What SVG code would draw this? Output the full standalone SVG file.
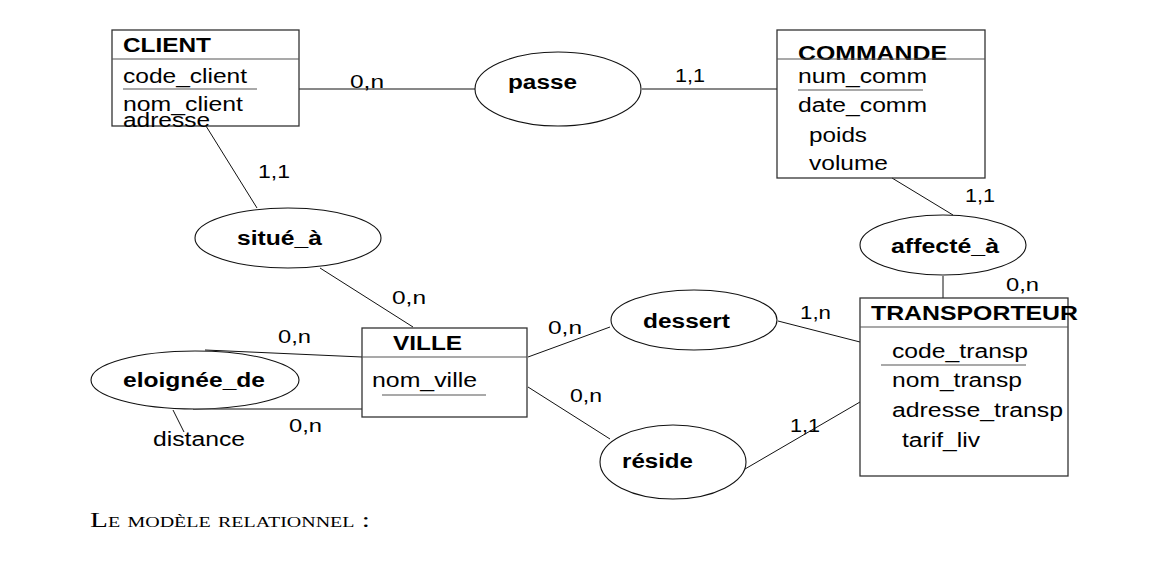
<svg xmlns="http://www.w3.org/2000/svg" width="1171" height="564" viewBox="0 0 1171 564">
<style>
text{font-family:"Liberation Sans",Arial,sans-serif;fill:#000}
.t{font-size:20px;font-weight:bold}
.a{font-size:20px}
.c{font-size:19px}
.box{fill:none;stroke:#333;stroke-width:1.3}
.sep{stroke:#555;stroke-width:1.2}
.ul{stroke:#555;stroke-width:1.2}
.ell{fill:#fff;stroke:#111;stroke-width:1.1}
.ln{stroke:#111;stroke-width:1;fill:none}
.cap{font-family:"Liberation Serif","Times New Roman",serif;font-variant:small-caps;font-size:22px}
</style>
<rect width="1171" height="564" fill="#fff"/>
<g id="connectors">
<line class="ln" x1="299" y1="89" x2="475" y2="89"/>
<line class="ln" x1="642" y1="89" x2="777" y2="89"/>
<line class="ln" x1="206" y1="126" x2="257" y2="208"/>
<line class="ln" x1="320" y1="268" x2="413" y2="327"/>
<line class="ln" x1="892" y1="178" x2="953" y2="215"/>
<line class="ln" x1="943" y1="276" x2="943" y2="298"/>
<line class="ln" x1="778" y1="321" x2="860" y2="342"/>
<line class="ln" x1="528" y1="357" x2="610" y2="327"/>
<line class="ln" x1="528" y1="387" x2="610" y2="439"/>
<line class="ln" x1="745" y1="469" x2="860" y2="402"/>
<line class="ln" x1="205" y1="350" x2="362" y2="357"/>
<line class="ln" x1="193" y1="409" x2="362" y2="409"/>
<line class="ln" x1="173" y1="410" x2="184" y2="432"/>
<text class="c" x="350" y="88" textLength="34" lengthAdjust="spacingAndGlyphs">0,n</text>
<text class="c" x="675" y="82" textLength="30" lengthAdjust="spacingAndGlyphs">1,1</text>
<text class="c" x="258" y="178" textLength="32" lengthAdjust="spacingAndGlyphs">1,1</text>
<text class="c" x="392" y="304" textLength="34" lengthAdjust="spacingAndGlyphs">0,n</text>
<text class="c" x="965" y="202" textLength="30" lengthAdjust="spacingAndGlyphs">1,1</text>
<text class="c" x="1006" y="291" textLength="33" lengthAdjust="spacingAndGlyphs">0,n</text>
<text class="c" x="800" y="319" textLength="31" lengthAdjust="spacingAndGlyphs">1,n</text>
<text class="c" x="790" y="432" textLength="30" lengthAdjust="spacingAndGlyphs">1,1</text>
<text class="c" x="548" y="334" textLength="34" lengthAdjust="spacingAndGlyphs">0,n</text>
<text class="c" x="570" y="402" textLength="32" lengthAdjust="spacingAndGlyphs">0,n</text>
<text class="c" x="278" y="343" textLength="33" lengthAdjust="spacingAndGlyphs">0,n</text>
<text class="c" x="289" y="432" textLength="33" lengthAdjust="spacingAndGlyphs">0,n</text>
<text class="a" x="153" y="446" textLength="92" lengthAdjust="spacingAndGlyphs">distance</text>
</g>
<g id="client">
<rect class="box" x="112" y="30" width="187" height="96"/>
<line class="sep" x1="112" y1="59" x2="299" y2="59"/>
<text class="t" x="123" y="52" textLength="88" lengthAdjust="spacingAndGlyphs">CLIENT</text>
<text class="a" x="123" y="83" textLength="124" lengthAdjust="spacingAndGlyphs">code_client</text>
<line class="ul" x1="123" y1="89" x2="257" y2="89"/>
<text class="a" x="123" y="111" textLength="120" lengthAdjust="spacingAndGlyphs">nom_client</text>
<text class="a" x="123" y="127" textLength="87" lengthAdjust="spacingAndGlyphs">adresse</text>
</g>
<g id="commande">
<rect class="box" x="777" y="30" width="208" height="148"/>
<text class="t" x="798" y="60" textLength="149" lengthAdjust="spacingAndGlyphs">COMMANDE</text>
<line class="sep" x1="777" y1="59" x2="985" y2="59"/>
<text class="a" x="798" y="83" textLength="129" lengthAdjust="spacingAndGlyphs">num_comm</text>
<line class="ul" x1="798" y1="90" x2="923" y2="90"/>
<text class="a" x="798" y="112" textLength="129" lengthAdjust="spacingAndGlyphs">date_comm</text>
<text class="a" x="809" y="142" textLength="58" lengthAdjust="spacingAndGlyphs">poids</text>
<text class="a" x="809" y="170" textLength="79" lengthAdjust="spacingAndGlyphs">volume</text>
</g>
<g id="transporteur">
<rect class="box" x="860" y="298" width="208" height="178"/>
<line class="sep" x1="860" y1="327" x2="1068" y2="327"/>
<text class="t" x="871" y="320" textLength="207" lengthAdjust="spacingAndGlyphs">TRANSPORTEUR</text>
<text class="a" x="892" y="358" textLength="136" lengthAdjust="spacingAndGlyphs">code_transp</text>
<line class="ul" x1="881" y1="365" x2="1026" y2="365"/>
<text class="a" x="892" y="387" textLength="130" lengthAdjust="spacingAndGlyphs">nom_transp</text>
<text class="a" x="892" y="417" textLength="171" lengthAdjust="spacingAndGlyphs">adresse_transp</text>
<text class="a" x="902" y="447" textLength="78" lengthAdjust="spacingAndGlyphs">tarif_liv</text>
</g>
<g id="ville">
<rect class="box" x="362" y="328" width="165" height="89"/>
<line class="sep" x1="362" y1="357" x2="527" y2="357"/>
<text class="t" x="393" y="350" textLength="69" lengthAdjust="spacingAndGlyphs">VILLE</text>
<text class="a" x="372" y="387" textLength="105" lengthAdjust="spacingAndGlyphs">nom_ville</text>
<line class="ul" x1="382" y1="395" x2="486" y2="395"/>
</g>
<g id="passe">
<ellipse class="ell" cx="558" cy="89" rx="83" ry="37"/>
<text class="t" x="508" y="89" textLength="69" lengthAdjust="spacingAndGlyphs">passe</text>
</g>
<g id="situe_a">
<ellipse class="ell" cx="288" cy="238" rx="93" ry="30"/>
<text class="t" x="237" y="245" textLength="85" lengthAdjust="spacingAndGlyphs">situé_à</text>
</g>
<g id="affecte_a">
<ellipse class="ell" cx="943" cy="245" rx="83" ry="30"/>
<text class="t" x="891" y="253" textLength="108" lengthAdjust="spacingAndGlyphs">affecté_à</text>
</g>
<g id="dessert">
<ellipse class="ell" cx="694" cy="320" rx="83" ry="30"/>
<text class="t" x="643" y="328" textLength="87" lengthAdjust="spacingAndGlyphs">dessert</text>
</g>
<g id="reside">
<ellipse class="ell" cx="673" cy="462" rx="73" ry="37"/>
<text class="t" x="622" y="468" textLength="71" lengthAdjust="spacingAndGlyphs">réside</text>
</g>
<g id="eloignee_de">
<ellipse class="ell" cx="195" cy="380" rx="104" ry="29"/>
<text class="t" x="123" y="387" textLength="142" lengthAdjust="spacingAndGlyphs">eloignée_de</text>
</g>
<text class="cap" x="90" y="527" textLength="280" lengthAdjust="spacingAndGlyphs">Le modèle relationnel :</text>
</svg>
